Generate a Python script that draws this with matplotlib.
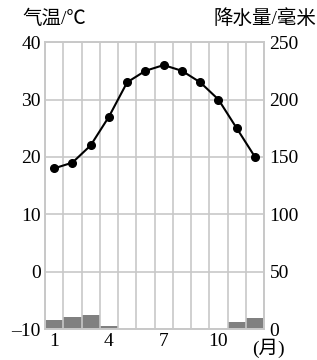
import matplotlib
matplotlib.use("Agg")
import matplotlib.pyplot as plt
import numpy as np

months = [1, 2, 3, 4, 5, 6, 7, 8, 9, 10, 11, 12]
temperature = [18, 19, 22, 27, 33, 35, 36, 35, 33, 30, 25, 20]
precipitation = [8, 10.5, 12.5, 3, 0, 0, 0, 0, 0, 0, 6, 10]
month_ticks = [1, 4, 7, 10]
temp_ticks = [-10, 0, 10, 20, 30, 40]
prec_ticks = [0, 50, 100, 150, 200, 250]

serif = ["Liberation Serif", "DejaVu Serif"]
mixed = ["Liberation Serif", "Noto Sans CJK SC", "DejaVu Sans"]

fig = plt.figure(figsize=(3.17, 3.6), dpi=100)
ax = fig.add_axes([0.142, 0.086, 0.691, 0.797])
ax2 = ax.twinx()

grid_c = "#c8c8c8"
ax2.bar(months, precipitation, width=1.0, color="#808080", edgecolor="none", zorder=2)
ax2.set_ylim(0, 250)
ax2.set_yticks(prec_ticks)
ax2.set_yticklabels([str(v) for v in prec_ticks], fontfamily=serif, fontsize=14)

ax.set_zorder(ax2.get_zorder() + 1)
ax.patch.set_visible(False)
ax.plot(months, temperature, color="black", lw=1.5, marker="o", markersize=5.5, zorder=5)
ax.set_xlim(0.5, 12.5)
ax.set_ylim(-10, 40)
ax.set_yticks(temp_ticks)
ax.set_yticklabels([("\u2013" + str(-v)) if v < 0 else str(v) for v in temp_ticks],
                   fontfamily=serif, fontsize=14)
ax.set_xticks(month_ticks)
ax.set_xticklabels([str(m) for m in month_ticks], fontfamily=serif, fontsize=14)
ax.set_xticks(np.arange(0.5, 13, 1), minor=True)
ax.grid(True, which="minor", axis="x", color=grid_c, lw=1.2)
ax.grid(True, which="major", axis="y", color=grid_c, lw=1.2)
ax.tick_params(which="both", length=0, pad=3)
ax2.tick_params(length=0, pad=4)
for a in (ax, ax2):
    for s in a.spines.values():
        s.set_color(grid_c)
        s.set_linewidth(1.2)

fig.text(22 / 317, 1 - 19 / 360, "气温/℃", fontfamily=mixed, fontsize=14, va="center", ha="left")
fig.text(316 / 317, 1 - 19 / 360, "降水量/毫米", fontfamily=mixed, fontsize=14, va="center", ha="right")
fig.text(268 / 317, 1 - 348 / 360, "(月)", fontfamily=mixed, fontsize=14, va="center", ha="center")

fig.savefig("out.png", dpi=100)
